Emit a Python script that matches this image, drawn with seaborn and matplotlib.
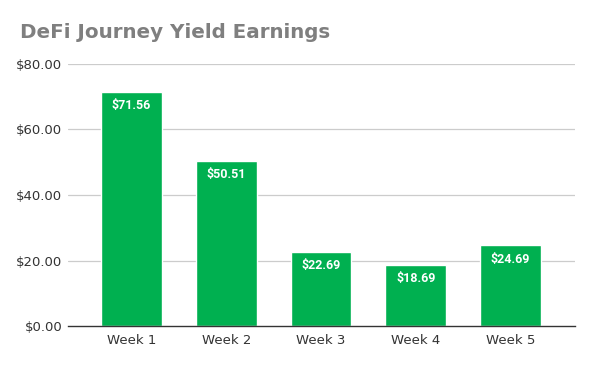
import matplotlib
matplotlib.use("Agg")
import matplotlib.pyplot as plt
import seaborn as sns
import pandas as pd

weeks = ["Week 1", "Week 2", "Week 3", "Week 4", "Week 5"]
earnings = [71.56, 50.51, 22.69, 18.69, 24.69]
yticks = [0, 20, 40, 60, 80]
title = "DeFi Journey Yield Earnings"

sns.set_theme(style="white")
plt.rcParams['font.family'] = ['DejaVu Sans']

df = pd.DataFrame({"week": weeks, "earnings": earnings})

fig = plt.figure(figsize=(5.93, 3.67), dpi=100)
ax = fig.add_axes([68/593, 1-326/367, (575-68)/593, (326-64)/367])

sns.barplot(data=df, x="week", y="earnings", color="#00b050", saturation=1,
            width=0.64, ax=ax, zorder=3)

ax.set_xlim(-0.67, 4.68)
ax.set_ylim(0, 80)
ax.set_yticks(yticks)
ax.set_yticklabels([f"${v:.2f}" for v in yticks], fontsize=9.5, color="#333333")
ax.tick_params(axis="x", labelsize=9.5, colors="#333333", length=0, pad=6)
ax.tick_params(axis="y", length=0, pad=4)
ax.set_xlabel("")
ax.set_ylabel("")
for v in yticks[1:]:
    ax.axhline(v, color="#cccccc", linewidth=0.9, zorder=1)
for s in ["top", "right", "left"]:
    ax.spines[s].set_visible(False)
ax.spines["bottom"].set_color("#333333")
ax.spines["bottom"].set_linewidth(1.0)
ax.spines["bottom"].set_zorder(4)

for i, v in enumerate(earnings):
    ax.annotate(f"${v:.2f}", xy=(i, v), xytext=(0, -10), textcoords="offset points",
                ha="center", va="center", color="white", fontsize=9,
                fontweight="bold", family=["Roboto", "DejaVu Sans"], zorder=5)

fig.text(20/593, 1-32/367, title, fontsize=14.3, fontweight="bold", color="#7f7f7f",
         ha="left", va="center")

fig.savefig("out.png", dpi=100)
